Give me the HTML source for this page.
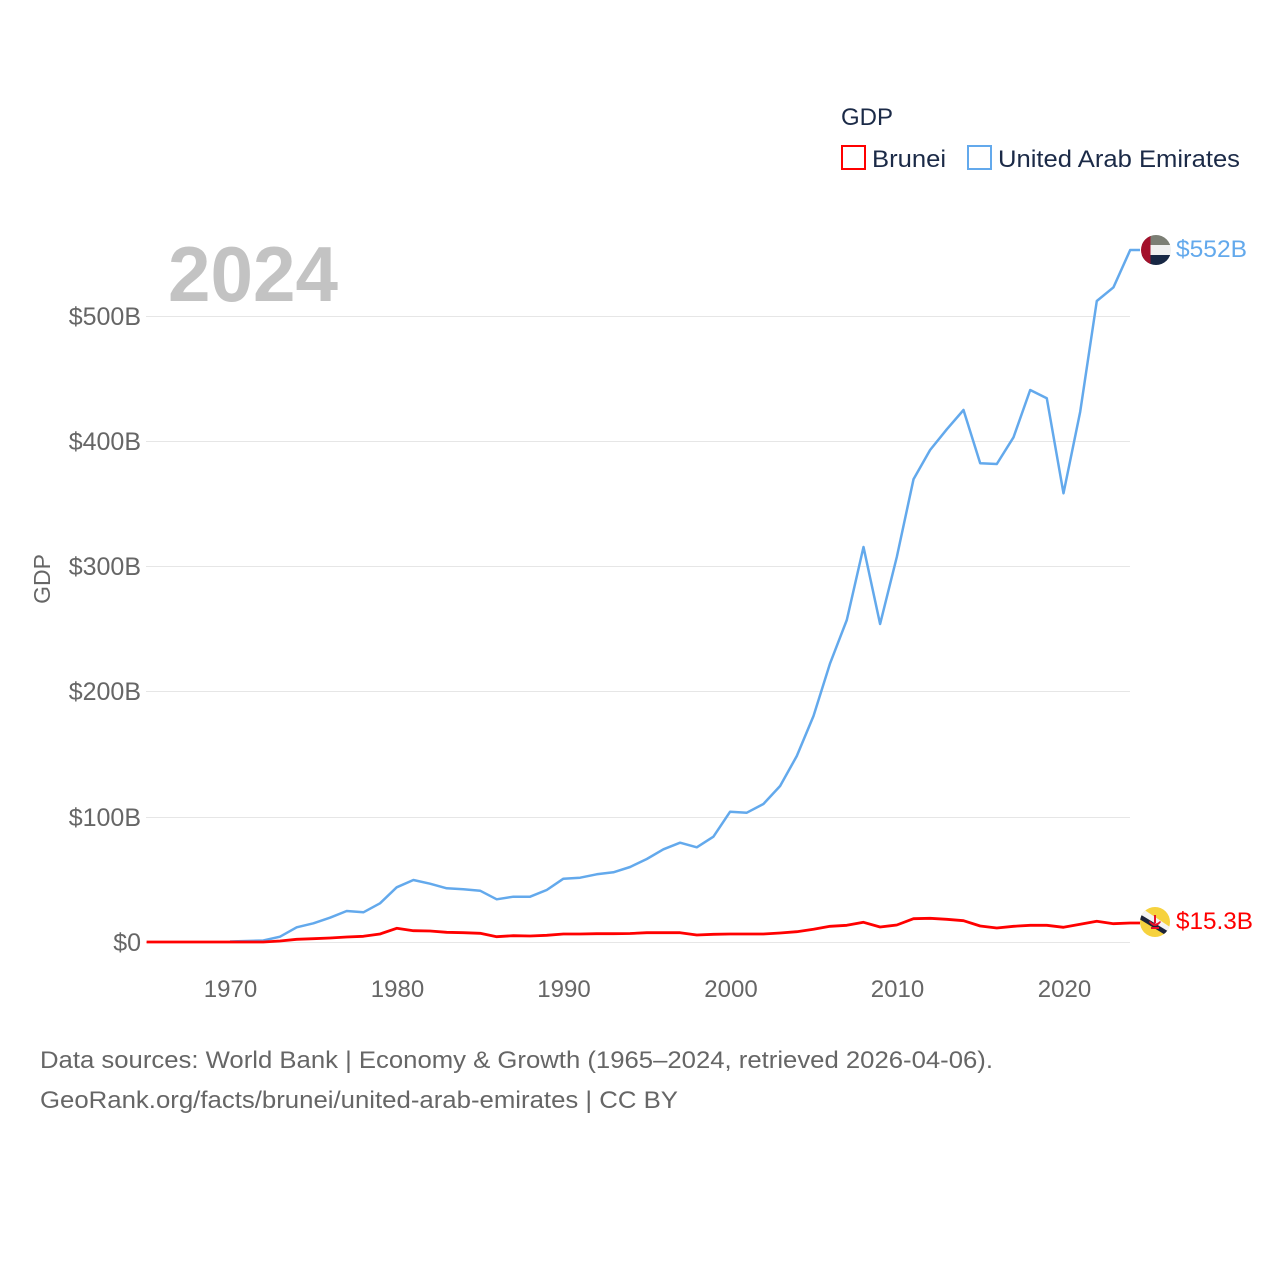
<!DOCTYPE html>
<html><head><meta charset="utf-8"><style>
html,body{margin:0;padding:0;background:#fff;}
svg{display:block;}
text{font-family:"Liberation Sans",sans-serif;}
</style></head><body>
<svg width="1280" height="1280" viewBox="0 0 1280 1280" xmlns="http://www.w3.org/2000/svg">
<rect width="1280" height="1280" fill="#fff"/>
<!-- watermark year -->
<text x="168" y="301" font-size="78" font-weight="bold" fill="#c3c3c3" textLength="170" lengthAdjust="spacingAndGlyphs">2024</text>
<!-- gridlines -->
<g stroke="#e6e6e6" stroke-width="1">
<line x1="146" y1="316.5" x2="1130" y2="316.5"/>
<line x1="146" y1="441.5" x2="1130" y2="441.5"/>
<line x1="146" y1="566.5" x2="1130" y2="566.5"/>
<line x1="146" y1="691.5" x2="1130" y2="691.5"/>
<line x1="146" y1="817.5" x2="1130" y2="817.5"/>
<line x1="146" y1="942.5" x2="1130" y2="942.5"/>
</g>
<!-- y labels -->
<g font-size="25" fill="#666" text-anchor="end">
<text x="141" y="325">$500B</text>
<text x="141" y="450">$400B</text>
<text x="141" y="575">$300B</text>
<text x="141" y="700">$200B</text>
<text x="141" y="826">$100B</text>
<text x="141" y="951">$0</text>
</g>
<text transform="translate(50,579) rotate(-90)" font-size="23" fill="#666" text-anchor="middle">GDP</text>
<!-- x labels -->
<g font-size="24" fill="#666" text-anchor="middle">
<text x="230.5" y="997">1970</text>
<text x="397.5" y="997">1980</text>
<text x="564" y="997">1990</text>
<text x="731" y="997">2000</text>
<text x="897.5" y="997">2010</text>
<text x="1064.5" y="997">2020</text>
</g>
<!-- UAE series -->
<polyline fill="none" stroke="#63a9ec" stroke-width="2.5" stroke-linejoin="round" points="230,941.5 246.7,941 263.3,940.5 280,936.7 296.7,927.3 313.4,923.3 330,917.7 346.7,911 363.4,912.3 380,903.3 396.7,887.3 413.4,880 430,883.7 446.7,888.3 463.4,889.3 480.1,890.7 496.7,899.3 513.4,896.7 530.1,896.7 546.7,890 563.4,878.7 580.1,877.7 596.7,874.3 613.4,872.3 630.1,867 646.8,859 663.4,849.3 680.1,842.7 696.8,847.3 713.4,836.7 730.1,811.7 746.8,812.7 763.4,804 780.1,786 796.8,756 813.5,716 830.1,663.3 846.8,620 863.5,547 880.1,624 896.8,557 913.5,479.3 930.1,450 946.8,429.3 963.5,410 980.2,463.3 996.8,464 1013.5,437.3 1030.2,390 1046.8,398.3 1063.5,493.3 1080.2,411.7 1096.8,301 1113.5,287.3 1130.2,250 1140,250"/>
<!-- Brunei series -->
<polyline fill="none" stroke="#ff0000" stroke-width="2.8" stroke-linejoin="round" points="146.6,942 163.3,942 180,942 196.7,942 213.3,942 230,942 246.7,942 263.3,942 280,941 296.7,939.3 313.4,938.7 330,938 346.7,937 363.4,936.3 380,934 396.7,928.3 413.4,930.7 430,931 446.7,932.3 463.4,932.7 480.1,933.3 496.7,936.7 513.4,935.7 530.1,936 546.7,935.3 563.4,934 580.1,934 596.7,933.7 613.4,933.7 630.1,933.5 646.8,932.7 663.4,932.7 680.1,932.7 696.8,935 713.4,934.3 730.1,934 746.8,934 763.4,934 780.1,933 796.8,931.7 813.5,929.3 830.1,926.3 846.8,925.3 863.5,922.3 880.1,927 896.8,925 913.5,918.7 930.1,918.3 946.8,919.3 963.5,920.7 980.2,926 996.8,928 1013.5,926.3 1030.2,925.3 1046.8,925.3 1063.5,927.3 1080.2,924.3 1096.8,921.3 1113.5,923.7 1130.2,923 1140,923"/>
<!-- flags -->
<defs>
<clipPath id="cu"><circle cx="1156" cy="250" r="15"/></clipPath>
<clipPath id="cb"><circle cx="1155" cy="922" r="15"/></clipPath>
</defs>
<g clip-path="url(#cu)">
<rect x="1141" y="235" width="30" height="10" fill="#7b7e74"/>
<rect x="1141" y="245" width="30" height="10" fill="#f0f0f0"/>
<rect x="1141" y="255" width="30" height="10" fill="#172744"/>
<rect x="1141" y="235" width="9.5" height="30" fill="#a3112b"/>
</g>
<g clip-path="url(#cb)">
<rect x="1140" y="907" width="30" height="30" fill="#f6d23e"/>
<polygon points="1136,913 1140,907 1176,931 1172,937" fill="#f4f4f4"/>
<polygon points="1136,917 1138,913 1174,935 1172,939" fill="#1b2238"/>
<path d="M1149,922 q6,8 12,0 l-1,-1 q-5,5 -10,0z M1154,915 h2 v8 h-2z M1151,927 h8 v2 h-8z" fill="#e8102a"/>
</g>
<!-- end labels -->
<text x="1176" y="257" font-size="24" fill="#63a9ec" textLength="71" lengthAdjust="spacingAndGlyphs">$552B</text>
<text x="1176" y="929" font-size="24" fill="#ff0000" textLength="77" lengthAdjust="spacingAndGlyphs">$15.3B</text>
<!-- legend -->
<text x="841" y="125" font-size="24" fill="#1b2a47" textLength="52" lengthAdjust="spacingAndGlyphs">GDP</text>
<rect x="842" y="146" width="23" height="23" fill="none" stroke="#ff0000" stroke-width="2"/>
<text x="872" y="167" font-size="24" fill="#1b2a47" textLength="74" lengthAdjust="spacingAndGlyphs">Brunei</text>
<rect x="968" y="146" width="23" height="23" fill="none" stroke="#63a9ec" stroke-width="2"/>
<text x="998" y="167" font-size="24" fill="#1b2a47" textLength="242" lengthAdjust="spacingAndGlyphs">United Arab Emirates</text>
<!-- footer -->
<text x="40" y="1068" font-size="24" fill="#666" textLength="953" lengthAdjust="spacingAndGlyphs">Data sources: World Bank | Economy &amp; Growth (1965–2024, retrieved 2026-04-06).</text>
<text x="40" y="1108" font-size="24" fill="#666" textLength="638" lengthAdjust="spacingAndGlyphs">GeoRank.org/facts/brunei/united-arab-emirates | CC BY</text>
</svg>
</body></html>
